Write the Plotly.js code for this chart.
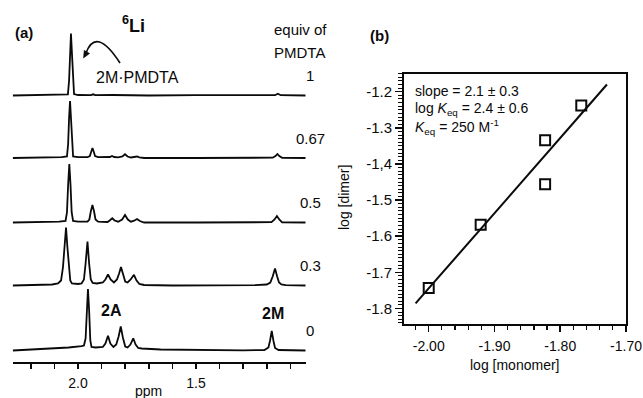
<!DOCTYPE html>
<html><head><meta charset="utf-8">
<script src="https://cdn.plot.ly/plotly-3.0.1.min.js"></script>
<style>html,body{margin:0;padding:0;background:#fff}#plot{width:643px;height:398px}</style>
</head><body><div id="plot"></div>
<script>
const equivLabels = ['1', '0.67', '0.5', '0.3', '0'];

const spec1_ppm = [2.277, 2.15, 2.06, 2.043, 2.038, 2.034, 2.030, 2.026, 2.022, 2.017, 2.00, 1.945, 1.936, 1.927, 1.85, 1.7, 1.5, 1.3, 1.165, 1.153, 1.141, 1.035];
const spec1_int = [0, 0.4, 0.6, 1.2, 15, 43, 62, 43, 15, 1.5, 0.5, 0.3, 1.2, 0.3, 0.5, 0, 0.3, 0, 0.3, 1.8, 0.3, 0];

const spec2_ppm = [2.277, 2.15, 2.07, 2.047, 2.042, 2.038, 2.034, 2.030, 2.026, 2.021, 2.00, 1.96, 1.950, 1.945, 1.939, 1.933, 1.928, 1.915, 1.88, 1.865, 1.856, 1.847, 1.83, 1.812, 1.801, 1.790, 1.776, 1.760, 1.750, 1.740, 1.72, 1.5, 1.3, 1.175, 1.163, 1.155, 1.147, 1.135, 1.035];
const spec2_int = [0, 0.3, 0.8, 1.5, 14, 40, 57, 40, 14, 1.5, 0.8, 0.8, 2, 6, 10, 6, 2, 0.8, 0.5, 1, 2, 1, 0.6, 1.5, 3.7, 1.5, 0.5, 1, 1.5, 0.6, 0, 0, 0, 0.3, 2, 4, 2, 0.2, 0];

const spec3_ppm = [2.277, 2.15, 2.08, 2.053, 2.047, 2.042, 2.037, 2.032, 2.027, 2.021, 2.00, 1.96, 1.952, 1.946, 1.939, 1.932, 1.926, 1.915, 1.875, 1.866, 1.855, 1.845, 1.83, 1.813, 1.801, 1.789, 1.776, 1.762, 1.750, 1.738, 1.72, 1.5, 1.3, 1.18, 1.167, 1.157, 1.147, 1.135, 1.035];
const spec3_int = [0, 0.3, 0.8, 1.5, 10, 38, 58.5, 38, 10, 1.5, 0.8, 0.8, 3, 11, 17.5, 11, 3, 0.8, 0.5, 2, 4.2, 2, 0.8, 3, 7.5, 3, 0.8, 1.8, 3.5, 1.5, 0, 0, 0, 0.3, 3, 6.5, 3, 0.2, 0];

const spec4_ppm = [2.277, 2.18, 2.11, 2.085, 2.072, 2.064, 2.058, 2.051, 2.045, 2.039, 2.033, 2.026, 2.00, 1.985, 1.975, 1.968, 1.960, 1.953, 1.946, 1.938, 1.92, 1.895, 1.884, 1.873, 1.862, 1.848, 1.835, 1.826, 1.818, 1.810, 1.800, 1.790, 1.777, 1.763, 1.752, 1.740, 1.72, 1.6, 1.4, 1.25, 1.20, 1.185, 1.175, 1.165, 1.156, 1.148, 1.138, 1.12, 1.035];
const spec4_int = [0, 0.5, 1, 2, 5, 18, 38, 58, 38, 16, 5, 2, 1.5, 2, 6, 22, 44, 22, 6, 2.5, 2, 3, 6, 11, 6, 3, 6, 12, 18.5, 12, 4, 3, 6, 10.7, 5, 1.5, 0.5, 0, 0, 0.3, 1, 3, 9, 17, 9, 3, 1, 0.3, 0];

const spec5_ppm = [2.277, 2.20, 2.119, 2.04, 1.985, 1.975, 1.968, 1.963, 1.958, 1.953, 1.948, 1.943, 1.925, 1.895, 1.884, 1.873, 1.863, 1.85, 1.838, 1.828, 1.819, 1.810, 1.800, 1.790, 1.778, 1.766, 1.756, 1.745, 1.73, 1.65, 1.50, 1.30, 1.21, 1.193, 1.186, 1.179, 1.172, 1.165, 1.15, 1.035];
const spec5_int = [0, 0.8, 1.5, 3, 4.3, 5, 12, 40, 61.5, 40, 10, 3.5, 3, 3.5, 7, 14.8, 7, 3.5, 6, 14, 24, 13, 4, 3, 6, 12.2, 6, 2.5, 2, 1, 0.5, 0.2, 0.5, 3, 10, 19.7, 10, 2.5, 0.5, 0];

const ppmTickVals = [2.0, 1.5];
const ppmTickText = ['2.0', '1.5'];

// ---------- Panel (b): log [dimer] vs log [monomer] ----------
const logMonomer = [-2.000, -1.921, -1.823, -1.823, -1.768];
const logDimer   = [-1.743, -1.568, -1.334, -1.456, -1.238];
const fitX = [-2.020, -1.729];
const fitY = [-1.786, -1.180];
const bTickValsX = [-2.0, -1.9, -1.8, -1.7];
const bTickTextX = ['-2.00', '-1.90', '-1.80', '-1.70'];
const bTickValsY = [-1.8, -1.7, -1.6, -1.5, -1.4, -1.3, -1.2];
const bTickTextY = ['-1.8', '-1.7', '-1.6', '-1.5', '-1,4', '-1.3', '-1.2'];

// ---------- layout helpers ----------
const W = 643, H = 398;
const px = v => v / W;
const py = v => 1 - v / H;
const stackOffset = [266.2, 203.7, 139.2, 76.2, 11.2];
const INK = '#0a0a0a';
const FONT = 'Liberation Sans, Arial, Helvetica, sans-serif';

const specs = [[spec1_ppm, spec1_int], [spec2_ppm, spec2_int], [spec3_ppm, spec3_int], [spec4_ppm, spec4_int], [spec5_ppm, spec5_int]];
const traces = specs.map((s, i) => ({
  x: s[0], y: s[1].map(v => v + stackOffset[i]),
  type: 'scatter', mode: 'lines', xaxis: 'x', yaxis: 'y',
  line: {color: INK, width: 1.8}, hoverinfo: 'skip', showlegend: false
}));
traces.push({
  x: fitX, y: fitY, type: 'scatter', mode: 'lines', xaxis: 'x2', yaxis: 'y2',
  line: {color: INK, width: 2}, showlegend: false
});
traces.push({
  x: logMonomer, y: logDimer, type: 'scatter', mode: 'markers', xaxis: 'x2', yaxis: 'y2',
  marker: {symbol: 'square-open', size: 10, color: INK, line: {width: 2, color: INK}}, showlegend: false
});

const ann = [];
function A(text, x, y, o) {
  ann.push(Object.assign({text, x: px(x), y: py(y), xref: 'paper', yref: 'paper', showarrow: false,
    xanchor: 'center', yanchor: 'middle', font: {family: FONT, size: 14, color: INK}}, o || {}));
}
const f = s => ({family: FONT, size: s, color: INK});
A('<b>(a)</b>', 24, 33, {font: f(15)});
A('<b><sup>6</sup>Li</b>', 133, 25, {font: f(18)});
A('equiv of', 300, 30, {font: f(15)});
A('PMDTA', 299, 53, {font: f(15)});
A('2M·PMDTA', 137.5, 77, {font: f(16)});
A('<b>2A</b>', 111.5, 310.5, {font: f(16)});
A('<b>2M</b>', 273, 313.5, {font: f(16)});
A('ppm', 148, 391, {font: f(14)});
A('<b>(b)</b>', 379.5, 35.5, {font: f(15)});
A('log [dimer]', 344, 198, {textangle: -90});
A('log [monomer]', 514.5, 364.5);
A('slope = 2.1 ± 0.3', 413, 91, {xanchor: 'left', font: f(14)});
A('log <i>K</i><sub>eq</sub> = 2.4 ± 0.6', 413, 109, {xanchor: 'left', font: f(14)});
A('<i>K</i><sub>eq</sub> = 250 M<sup>-1</sup>', 413, 127, {xanchor: 'left', font: f(14)});
equivLabels.forEach((t, i) => ann.push({text: t, x: px(310), xref: 'paper', y: stackOffset[i] + 20, yref: 'y',
  showarrow: false, xanchor: 'center', yanchor: 'middle', font: f(15)}));

const layout = {
  width: W, height: H, margin: {l: 0, r: 0, t: 0, b: 0},
  paper_bgcolor: '#fff', plot_bgcolor: 'rgba(0,0,0,0)', showlegend: false,
  font: {family: FONT, color: INK},
  xaxis: {domain: [px(12.7), px(305.7)], range: [2.277, 1.035], anchor: 'y',
    tickmode: 'array', tickvals: ppmTickVals, ticktext: ppmTickText,
    ticks: 'outside', ticklen: 5, tickwidth: 1.5, tickcolor: INK, ticklabelstandoff: 2,
    minor: {tickmode: 'linear', tick0: 2.0, dtick: 0.1, ticks: 'outside', ticklen: 5, tickwidth: 1.5, tickcolor: INK, showgrid: false},
    showline: true, linewidth: 2, linecolor: INK, showgrid: false, zeroline: false,
    tickfont: f(14)},
  yaxis: {domain: [py(361.7), py(20)], range: [0, 341.7], visible: false, fixedrange: true},
  xaxis2: {domain: [px(404), px(626)], range: [-2.0376, -1.70], anchor: 'y2',
    tickmode: 'array', tickvals: bTickValsX, ticktext: bTickTextX,
    ticks: 'outside', ticklen: 6, tickwidth: 1.5, tickcolor: INK, ticklabelstandoff: 3,
    minor: {tickmode: 'linear', tick0: -2.0, dtick: 0.02, ticks: 'outside', ticklen: 4, tickwidth: 1.2, tickcolor: INK, showgrid: false},
    showline: true, mirror: true, linewidth: 2, linecolor: INK, showgrid: false, zeroline: false,
    tickfont: f(14)},
  yaxis2: {domain: [py(323.5), py(73.5)], range: [-1.8415, -1.1496], anchor: 'x2',
    tickmode: 'array', tickvals: bTickValsY, ticktext: bTickTextY,
    ticks: 'outside', ticklen: 7, tickwidth: 1.5, tickcolor: INK,
    minor: {tickmode: 'linear', tick0: -1.8, dtick: 0.01, ticks: 'outside', ticklen: 4, tickwidth: 1, tickcolor: INK, showgrid: false},
    showline: true, mirror: true, linewidth: 2, linecolor: INK, showgrid: false, zeroline: false,
    tickfont: f(15)},
  annotations: ann,
  shapes: [
    {type: 'path', xref: 'paper', yref: 'paper',
      path: `M ${px(120)} ${py(63)} Q ${px(96)} ${py(26)} ${px(86)} ${py(53)}`,
      line: {color: INK, width: 1.6}},
    {type: 'path', xref: 'paper', yref: 'paper',
      path: `M ${px(83.5)} ${py(58)} L ${px(84.2)} ${py(50.3)} L ${px(89.6)} ${py(53.5)} Z`,
      fillcolor: INK, line: {color: INK, width: 0.5}}
  ]
};
Plotly.newPlot('plot', traces, layout, {staticPlot: true, displayModeBar: false});
</script></body></html>
